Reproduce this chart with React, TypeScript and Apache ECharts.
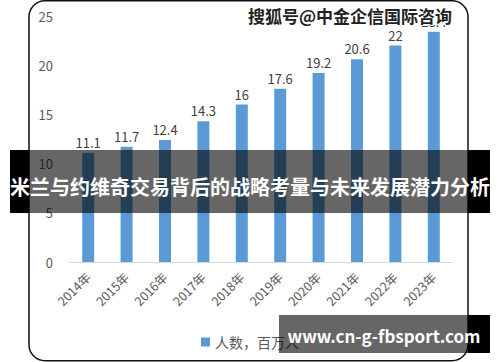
import React, { useEffect, useRef } from "react";
import * as echarts from "echarts";

const years = ["2014年", "2015年", "2016年", "2017年", "2018年", "2019年", "2020年", "2021年", "2022年", "2023年"];
const people = [11.1, 11.7, 12.4, 14.3, 16, 17.6, 19.2, 20.6, 22, 23.4];
const seriesName = "人数，百万人";
const bannerTitle = "米兰与约维奇交易背后的战略考量与未来发展潜力分析";
const topMark = "搜狐号@中金企信国际咨询";
const siteMark = "www.cn-g-fbsport.com";

const FONT = "'Noto Sans CJK SC', 'Noto Sans', sans-serif";

export default function App() {
  const ref = useRef<HTMLDivElement>(null);
  useEffect(() => {
    if (!ref.current) return;
    const chart = echarts.init(ref.current, undefined, { renderer: "svg" });
    chart.setOption({
      animation: false,
      backgroundColor: "#ffffff",
      textStyle: { fontFamily: FONT },
      grid: { left: 69, right: 47, top: 16, bottom: 100, containLabel: false },
      legend: {
        data: [seriesName],
        left: 196,
        top: 330,
        icon: "rect",
        itemWidth: 9,
        itemHeight: 9,
        itemGap: 6,
        textStyle: { fontSize: 14, color: "#595959", fontFamily: FONT },
      },
      xAxis: {
        type: "category",
        data: years,
        axisTick: { show: false },
        axisLine: { lineStyle: { color: "#d9d9d9", width: 1 } },
        axisLabel: { rotate: 45, interval: 0, color: "#595959", fontSize: 12.5, margin: 13, fontFamily: FONT },
      },
      yAxis: {
        type: "value",
        min: 0,
        max: 25,
        interval: 5,
        splitLine: { show: false },
        axisLine: { show: false },
        axisTick: { show: false },
        axisLabel: { color: "#595959", fontSize: 13, margin: 16, fontFamily: FONT },
      },
      series: [
        {
          name: seriesName,
          type: "bar",
          data: people,
          barWidth: 12,
          itemStyle: { color: "#5B9BD5" },
          label: { show: true, position: "top", color: "#404040", fontSize: 13, distance: 4, fontFamily: FONT },
        },
      ],
      graphic: [
        {
          type: "rect",
          z: 100,
          shape: { x: 29, y: 0.75, width: 439, height: 360, r: 16 },
          style: { fill: "none", stroke: "#111", lineWidth: 1.5 },
        },
        {
          type: "rect",
          z: 100,
          shape: { x: 244, y: 3, width: 214, height: 22 },
          style: { fill: "#ffffff" },
        },
        {
          type: "text",
          z: 101,
          x: 350,
          y: 15,
          style: {
            text: topMark,
            fill: "#222",
            stroke: "#ffffff",
            lineWidth: 2,
            font: "bold 17px " + FONT,
            align: "center",
            verticalAlign: "middle",
          },
        },
        { type: "rect", z: 110, shape: { x: 10, y: 150, width: 19, height: 63 }, style: { fill: "#000" } },
        { type: "rect", z: 110, shape: { x: 29, y: 150, width: 439, height: 63 }, style: { fill: "rgba(0,0,0,0.6)" } },
        { type: "rect", z: 110, shape: { x: 468, y: 150, width: 22, height: 63 }, style: { fill: "#000" } },
        {
          type: "text",
          z: 111,
          x: 250,
          y: 186,
          style: {
            text: bannerTitle,
            fill: "#ffffff",
            font: "bold 20px " + FONT,
            align: "center",
            verticalAlign: "middle",
          },
        },
        { type: "rect", z: 110, shape: { x: 279, y: 315, width: 189, height: 38 }, style: { fill: "rgba(0,0,0,0.6)" } },
        { type: "rect", z: 110, shape: { x: 468, y: 315, width: 22, height: 38 }, style: { fill: "#000" } },
        {
          type: "text",
          z: 111,
          x: 384,
          y: 335,
          style: {
            text: siteMark,
            fill: "#ffffff",
            font: "bold 17px " + FONT,
            align: "center",
            verticalAlign: "middle",
          },
        },
      ],
    });
    return () => chart.dispose();
  }, []);
  return (
    <div style={{ position: "fixed", left: 0, top: 0, width: 500, height: 362, background: "#fff" }}>
      <div ref={ref} style={{ width: 500, height: 362 }} />
    </div>
  );
}
